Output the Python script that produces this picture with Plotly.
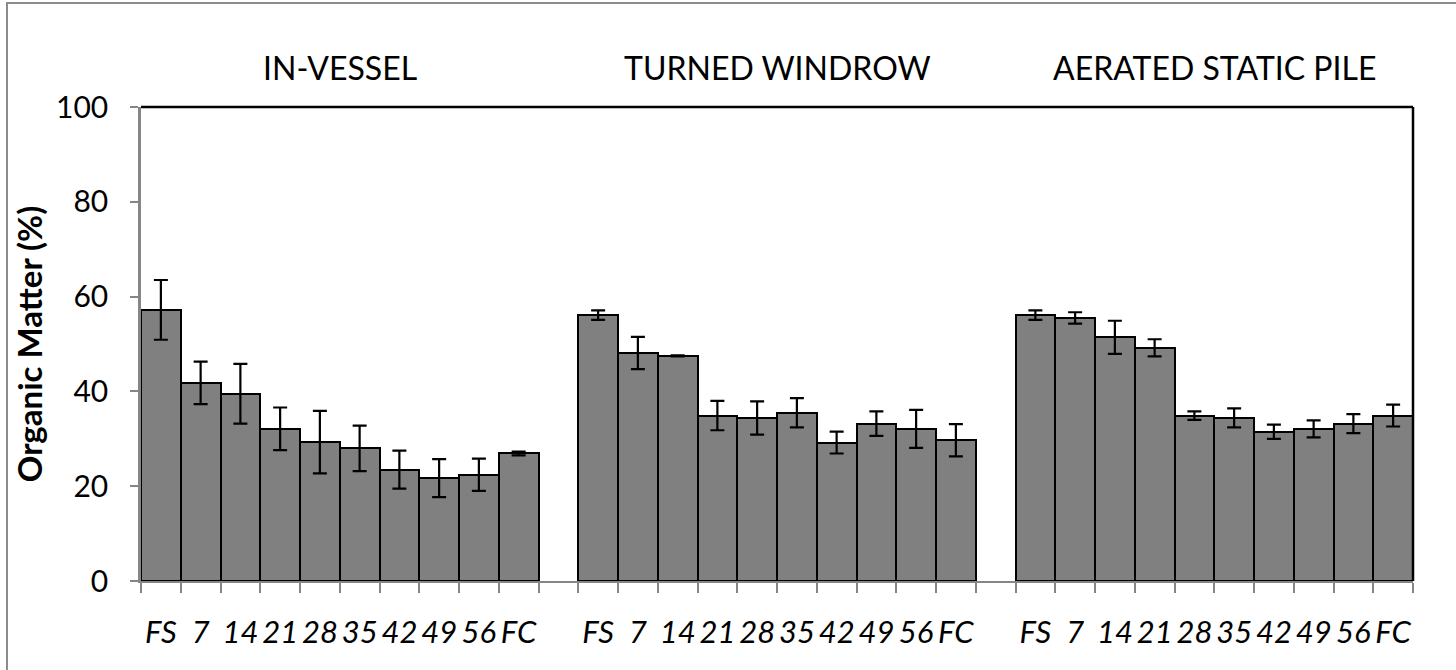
import plotly.graph_objects as go

# ---- data ----
days = ["FS", "7", "14", "21", "28", "35", "42", "49", "56", "FC"]
methods = ["IN-VESSEL", "TURNED WINDROW", "AERATED STATIC PILE"]

in_vessel = [57.2, 41.8, 39.5, 32.1, 29.3, 28.0, 23.5, 21.7, 22.4, 26.9]
in_vessel_err = [6.3, 4.5, 6.3, 4.5, 6.6, 4.8, 4.0, 4.0, 3.4, 0.4]

turned_windrow = [56.1, 48.1, 47.5, 34.9, 34.4, 35.5, 29.2, 33.2, 32.1, 29.7]
turned_windrow_err = [1.0, 3.4, 0.1, 3.1, 3.5, 3.1, 2.3, 2.6, 4.0, 3.4]

aerated_static = [56.1, 55.5, 51.4, 49.2, 34.9, 34.4, 31.5, 32.1, 33.2, 34.9]
aerated_static_err = [1.0, 1.2, 3.5, 1.8, 0.9, 2.0, 1.5, 1.8, 2.0, 2.3]

y_ticks = [0, 20, 40, 60, 80, 100]

series = [in_vessel, turned_windrow, aerated_static]
errors = [in_vessel_err, turned_windrow_err, aerated_static_err]

# ---- build positions: 10 slots per group, one empty slot between groups ----
n = len(days)
slot = n + 1
xs, ys, es, tickvals, ticktext = [], [], [], [], []
for g, (vals, errs) in enumerate(zip(series, errors)):
    for i, (v, e) in enumerate(zip(vals, errs)):
        x = g * slot + i + 0.5
        xs.append(x)
        ys.append(v)
        es.append(e)
        tickvals.append(x)
        ticktext.append(days[i])
total_slots = len(series) * n + (len(series) - 1)

GRAY_AX = "#868686"
FONT = "Lato"

fig = go.Figure()
fig.add_trace(go.Bar(
    x=xs, y=ys, width=1,
    marker=dict(color="#808080", line=dict(color="black", width=2)),
    error_y=dict(type="data", array=es, visible=True, color="black",
                 thickness=2.2, width=7),
    showlegend=False,
))

for g, name in enumerate(methods):
    fig.add_annotation(
        x=g * slot + (n - 1) / 2 + 0.5, xref="x",
        y=1.083, yref="paper",
        text=name, showarrow=False, xanchor="center", yanchor="middle",
        font=dict(family=FONT, size=32, color="black"),
    )

# plot frame: top and right black lines
fig.add_shape(type="line", xref="paper", yref="paper", x0=0, x1=1, y0=1, y1=1,
              line=dict(color="black", width=2.5))
fig.add_shape(type="line", xref="paper", yref="paper", x0=1, x1=1, y0=0, y1=1,
              line=dict(color="black", width=2.5))
# outer chart border (left and top visible)
fig.add_shape(type="rect", xref="paper", yref="paper",
              x0=(7 - 141) / 1272, x1=1.2, y0=-0.5, y1=(581 - 3) / 474,
              line=dict(color="#8c8c8c", width=2), layer="below")

fig.update_layout(
    width=1456, height=670,
    margin=dict(l=141, r=43, t=107, b=89, pad=0),
    paper_bgcolor="white", plot_bgcolor="white",
    bargap=0,
    font=dict(family=FONT, color="black"),
    xaxis=dict(
        range=[0, total_slots],
        tickmode="array", tickvals=tickvals, ticktext=ticktext,
        ticks="", showgrid=False, zeroline=False,
        showline=True, linecolor=GRAY_AX, linewidth=2,
        tickfont=dict(family=FONT, size=31, color="black", style="italic"),
        ticklabelstandoff=23,
        minor=dict(tickmode="linear", tick0=0, dtick=1, ticks="outside",
                   ticklen=10, tickwidth=2, tickcolor=GRAY_AX, showgrid=False),
        fixedrange=True,
    ),
    yaxis=dict(
        range=[0, 100], tickmode="array", tickvals=y_ticks,
        ticks="outside", ticklen=8, tickwidth=2, tickcolor=GRAY_AX,
        showgrid=False, zeroline=False,
        showline=True, linecolor=GRAY_AX, linewidth=2.5,
        tickfont=dict(family=FONT, size=30, color="black"),
        ticklabelstandoff=16,
        title=dict(text="<b>Organic Matter (%)</b>",
                   font=dict(family=FONT, size=33, color="black"),
                   standoff=4),
        fixedrange=True,
    ),
)

fig.write_html("out.html", config={"displayModeBar": False},
               post_script="document.body.style.margin='0';document.body.style.overflow='hidden';")
